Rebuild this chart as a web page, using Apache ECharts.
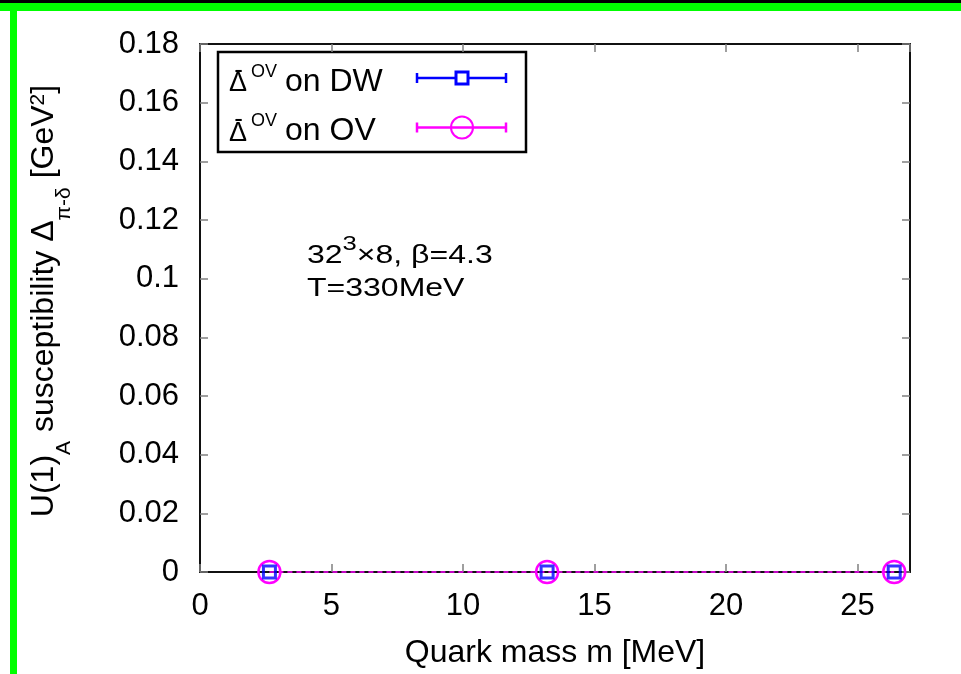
<!DOCTYPE html>
<html>
<head>
<meta charset="utf-8">
<script src="https://cdn.jsdelivr.net/npm/echarts@6/dist/echarts.min.js"></script>
<style>
  html, body { margin: 0; padding: 0; background: #ffffff; }
  #chart { width: 961px; height: 674px; }
</style>
</head>
<body>
<div id="chart"></div>
<script>
// Quark masses (MeV) and the U(1)_A susceptibility Delta_{pi-delta} (GeV^2)
const massMeV = [2.64, 13.2, 26.4];
const deltaDW = [0, 0, 0];   // overlap Dirac spectrum on domain-wall configurations
const deltaOV = [0, 0, 0];   // overlap Dirac spectrum on overlap configurations

const xTicks = { min: 0, max: 27, step: 5 };
const yTicks = { min: 0, max: 0.18, step: 0.02 };

const legendLabels = ['on DW', 'on OV'];

const FONT = '"Liberation Sans", Arial, Helvetica, sans-serif';
const BLUE = '#0000ff';
const MAGENTA = '#ff00ff';

const chart = echarts.init(document.getElementById('chart'), null, { renderer: 'canvas' });

const tickStyle = { show: true, inside: true, length: 8, lineStyle: { color: '#808080', width: 1.5 } };
const frameLine = { show: true, onZero: false, lineStyle: { color: '#111111', width: 2 } };

function pairs(xs, ys) { return xs.map((x, i) => [x, ys[i]]); }

function txt(text, x, y, size, align) {
  return {
    type: 'text', x: x, y: y,
    style: { text: text, fontSize: size, fontFamily: FONT, fill: '#000', align: align || 'left', verticalAlign: 'middle' }
  };
}

// one legend row: "Δ" with an overbar, superscript "OV", label, then an error-bar sample
function legendRow(baseline, label, color, marker) {
  const my = baseline - 15;
  const items = [
    txt('Δ', 229, baseline - 9.4, 27),
    txt('-', 238.5, baseline - 22.6, 26, 'center'),
    txt('OV', 251, baseline - 21.3, 18),
    txt(label, 285, baseline - 11.1, 32),
    { type: 'line', shape: { x1: 417, y1: my, x2: 506, y2: my }, style: { stroke: color, lineWidth: 2.5 } },
    { type: 'line', shape: { x1: 417, y1: my - 5, x2: 417, y2: my + 5 }, style: { stroke: color, lineWidth: 2.5 } },
    { type: 'line', shape: { x1: 506, y1: my - 5, x2: 506, y2: my + 5 }, style: { stroke: color, lineWidth: 2.5 } }
  ];
  if (marker === 'rect') {
    items.push({ type: 'rect', shape: { x: 456, y: my - 6, width: 12, height: 12 }, style: { fill: '#fff', stroke: color, lineWidth: 3 } });
  } else {
    items.push({ type: 'circle', shape: { cx: 462, cy: my, r: 11 }, style: { fill: 'none', stroke: color, lineWidth: 2 } });
  }
  return items;
}

const option = {
  backgroundColor: '#ffffff',
  animation: false,
  grid: { left: 200, top: 44, width: 710, height: 529, containLabel: false },
  xAxis: [
    {
      type: 'value', position: 'bottom',
      min: xTicks.min, max: xTicks.max, interval: xTicks.step,
      axisLine: frameLine, axisTick: tickStyle, splitLine: { show: false },
      axisLabel: { fontSize: 31, fontFamily: FONT, color: '#000', margin: 19, showMaxLabel: false },
      name: 'Quark mass m [MeV]', nameLocation: 'middle', nameGap: 65,
      nameTextStyle: { fontSize: 32, fontFamily: FONT, color: '#000' }
    },
    {
      type: 'value', position: 'top',
      min: xTicks.min, max: xTicks.max, interval: xTicks.step,
      axisLine: frameLine, axisTick: tickStyle, splitLine: { show: false },
      axisLabel: { show: false }
    }
  ],
  yAxis: [
    {
      type: 'value', position: 'left',
      min: yTicks.min, max: yTicks.max, interval: yTicks.step,
      axisLine: frameLine, axisTick: tickStyle, splitLine: { show: false },
      axisLabel: {
        fontSize: 31, fontFamily: FONT, color: '#000', margin: 21,
        formatter: v => String(+v.toFixed(2))
      },
      name: '{t|U(1)}{s|A}{t| susceptibility Δ}{s|π-δ}{t| [GeV}{p|2}{t|]}',
      nameLocation: 'middle', nameRotate: 90, nameGap: 130,
      nameTextStyle: {
        fontFamily: FONT, color: '#000', padding: [0, 0, 0, 14],
        rich: {
          t: { fontSize: 32, lineHeight: 52, verticalAlign: 'middle', fontFamily: FONT, color: '#000' },
          s: { fontSize: 21, height: 12, lineHeight: 12, verticalAlign: 'bottom', fontFamily: FONT, color: '#000' },
          p: { fontSize: 21, height: 41, lineHeight: 41, verticalAlign: 'top', fontFamily: FONT, color: '#000' }
        }
      }
    },
    {
      type: 'value', position: 'right',
      min: yTicks.min, max: yTicks.max, interval: yTicks.step,
      axisLine: frameLine, axisTick: tickStyle, splitLine: { show: false },
      axisLabel: { show: false }
    }
  ],
  series: [
    {
      name: 'OV on OV', type: 'line', xAxisIndex: 0, yAxisIndex: 0,
      data: pairs(massMeV, deltaOV), clip: false, z: 3,
      symbol: 'circle', symbolSize: 22,
      itemStyle: { color: 'rgba(255,255,255,0)', borderColor: MAGENTA, borderWidth: 2.5 },
      lineStyle: { color: MAGENTA, width: 1.5, type: [5, 4] }
    },
    {
      name: 'OV on DW', type: 'scatter', xAxisIndex: 0, yAxisIndex: 0,
      data: pairs(massMeV, deltaDW), clip: false, z: 4,
      symbol: 'rect', symbolSize: 12,
      itemStyle: { color: 'rgba(255,255,255,0)', borderColor: BLUE, borderWidth: 3 }
    }
  ],
  graphic: [
    // page frame strips
    { type: 'rect', shape: { x: 0, y: 0, width: 961, height: 3 }, style: { fill: '#000' }, z: 50 },
    { type: 'rect', shape: { x: 0, y: 3, width: 961, height: 8 }, style: { fill: '#00ff00' }, z: 50 },
    { type: 'rect', shape: { x: 10, y: 11, width: 7, height: 663 }, style: { fill: '#00ff00' }, z: 50 },

    // lattice setup annotation
    {
      type: 'text', x: 307, y: 234, scaleX: 1.28, z: 60,
      style: {
        text: '{t|32}{p|3}{t|×8, β=4.3}', align: 'left', verticalAlign: 'top',
        rich: {
          t: { fontSize: 25, lineHeight: 44, verticalAlign: 'middle', fontFamily: FONT, fill: '#000' },
          p: { fontSize: 20, lineHeight: 16, verticalAlign: 'top', fontFamily: FONT, fill: '#000' }
        }
      }
    },
    {
      type: 'text', x: 307, y: 289, scaleX: 1.28, z: 60,
      style: { text: 'T=330MeV', fontSize: 25, fontFamily: FONT, fill: '#000', align: 'left', verticalAlign: 'middle' }
    },

    // legend
    {
      type: 'group', z: 100,
      children: [
        { type: 'rect', shape: { x: 218, y: 52, width: 308, height: 100 }, style: { fill: '#fff', stroke: '#000', lineWidth: 2.5 } },
        ...legendRow(93, legendLabels[0], BLUE, 'rect'),
        ...legendRow(142.5, legendLabels[1], MAGENTA, 'circle')
      ]
    }
  ]
};

chart.setOption(option);
</script>
</body>
</html>
